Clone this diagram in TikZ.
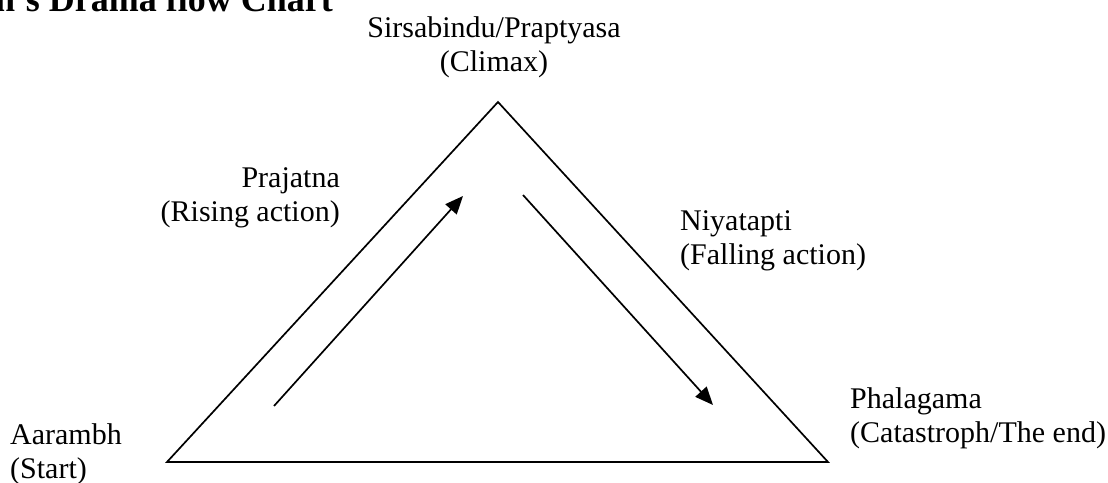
\documentclass[tikz,border=0pt]{standalone}
\usepackage{fontspec}
\setmainfont{Liberation Serif}
\usepackage{tikz}
\usetikzlibrary{arrows.meta, positioning}

\begin{document}
\begin{tikzpicture}[
    x=1pt, y=1pt,
    label/.style={inner sep=0pt, align=left, font=\fontsize{30}{34}\selectfont},
    edge/.style={line width=1.7pt, line join=miter},
    arrow/.style={line width=1.7pt, -{Triangle[length=18pt,width=15pt]}},
]
\useasboundingbox (0,0) rectangle (1108,482);

% Title (cut at the top)
\node[inner sep=0pt, anchor=base west, font=\fontsize{36}{40}\selectfont\bfseries] (title) at (-5,470) {n's Drama flow Chart};

% Corners
\coordinate (start) at (167,20);
\coordinate (climax) at (498,380);
\coordinate (end) at (828,20);

% Triangle
\draw[edge] (start) -- (climax) -- (end) -- cycle;

% Arrows
\coordinate (risetail) at (274,76);
\coordinate (risetip) at (463,286);
\coordinate (falltail) at (523,287);
\coordinate (falltip) at (713,77);
\draw[arrow] (risetail) -- (risetip);
\draw[arrow] (falltail) -- (falltip);

% Labels
\node[label, align=center, anchor=base] (climaxlabel) at (494,410) {Sirsabindu/Praptyasa\\(Climax)};
\node[label, align=right, anchor=base east] (riselabel) at (340,260) {Prajatna\\(Rising action)};
\node[label, anchor=base west] (falllabel) at (680,217) {Niyatapti\\(Falling action)};
\node[label, anchor=base west] (endlabel) at (850,40) {Phalagama\\(Catastroph/The end)};
\node[label, anchor=base west] (startlabel) at (10,4) {Aarambh\\(Start)};

\end{tikzpicture}
\end{document}
